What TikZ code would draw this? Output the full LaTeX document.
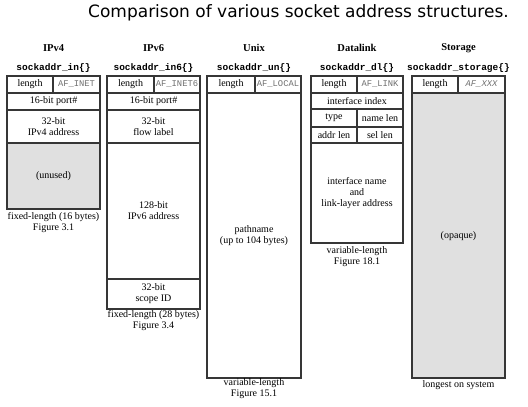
\documentclass[tikz,border=0pt]{standalone}
\usepackage{fontspec}
\setmainfont{Liberation Serif}
\newfontfamily\titlefont{DejaVu Sans}
\newfontfamily\codefont{Liberation Mono}
\usepackage{xcolor}
\usetikzlibrary{calc}
\definecolor{frame}{HTML}{363636}
\definecolor{shade}{HTML}{E0E0E0}
\definecolor{afgray}{HTML}{6E6E6E}
\tikzset{
  fld/.style={draw=frame, line width=1.1pt},
  gap/.style={fill=shade},
  ttl/.style={font=\titlefont\fontsize{17}{20}\selectfont, inner sep=0pt},
  fam/.style={font=\bfseries\fontsize{10.5}{12}\selectfont, inner sep=0pt},
  sname/.style={font=\codefont\bfseries\fontsize{9.5}{11}\selectfont, inner sep=0pt},
  txt/.style={font=\fontsize{10}{11}\selectfont, align=center, inner sep=0pt},
  afn/.style={font=\codefont\fontsize{8.8}{11}\selectfont, text=afgray, inner sep=0pt}
}
\begin{document}
\begin{tikzpicture}[x=1pt,y=-1pt]
  \useasboundingbox (0,0) rectangle (528,407);
  \node[ttl] (title) at (298.5,13) {Comparison of various socket address structures.};

  % IPv4
  \node[fam] (v4fam) at (53.5,48) {IPv4};
  \node[sname] (v4name) at (53.5,68) {sockaddr\_in\{\}};
  \fill[gap] (7,143) rectangle (100,209);
  \draw[fld] (7,76) rectangle (100,209);
  \draw[fld] (53,76) -- (53,93);
  \foreach \y in {93,110,143} \draw[fld] (7,\y) -- (100,\y);
  \node[txt] (v4len) at (30,84.5) {length};
  \node[afn] (v4af) at (76.5,84.5) {AF\_INET};
  \node[txt] (v4port) at (53.5,101.5) {16-bit port\#};
  \node[txt] (v4addr) at (53.5,126.5) {32-bit\\IPv4 address};
  \node[txt] (v4unused) at (53.5,176) {(unused)};
  \node[txt] (v4note) at (53.5,222.5) {fixed-length (16 bytes)\\Figure 3.1};

  % IPv6
  \node[fam] (v6fam) at (153.5,48) {IPv6};
  \node[sname] (v6name) at (153.5,68) {sockaddr\_in6\{\}};
  \draw[fld] (107,76) rectangle (200,309);
  \draw[fld] (154,76) -- (154,93);
  \foreach \y in {93,110,143,279} \draw[fld] (107,\y) -- (200,\y);
  \node[txt] (v6len) at (130.5,84.5) {length};
  \node[afn] (v6af) at (177,84.5) {AF\_INET6};
  \node[txt] (v6port) at (153.5,101.5) {16-bit port\#};
  \node[txt] (v6flow) at (153.5,126.5) {32-bit\\flow label};
  \node[txt] (v6addr) at (153.5,211) {128-bit\\IPv6 address};
  \node[txt] (v6scope) at (153.5,294) {32-bit\\scope ID};
  \node[txt] (v6note) at (153.5,320.5) {fixed-length (28 bytes)\\Figure 3.4};

  % Unix
  \node[fam] (unfam) at (254,48) {Unix};
  \node[sname] (unname) at (254,68) {sockaddr\_un\{\}};
  \draw[fld] (207,76) rectangle (301,378);
  \draw[fld] (255,76) -- (255,93);
  \draw[fld] (207,93) -- (301,93);
  \node[txt] (unlen) at (231,84.5) {length};
  \node[afn] (unaf) at (278,84.5) {AF\_LOCAL};
  \node[txt] (unpath) at (254,236) {pathname\\(up to 104 bytes)};
  \node[txt] (unnote) at (254,389) {variable-length\\Figure 15.1};

  % Datalink
  \node[fam] (dlfam) at (357,48) {Datalink};
  \node[sname] (dlname) at (357,68) {sockaddr\_dl\{\}};
  \draw[fld] (311,76) rectangle (403,243);
  \draw[fld] (357,76) -- (357,93);
  \draw[fld] (357,109) -- (357,143);
  \foreach \y in {93,109,127,143} \draw[fld] (311,\y) -- (403,\y);
  \node[txt] (dllen) at (334,84.5) {length};
  \node[afn] (dlaf) at (380,84.5) {AF\_LINK};
  \node[txt] (dlindex) at (357,101) {interface index};
  \node[txt] (dltype) at (334,118) {type};
  \node[txt] (dlnlen) at (380,118) {name len};
  \node[txt] (dlalen) at (334,135) {addr len};
  \node[txt] (dlslen) at (380,135) {sel len};
  \node[txt] (dladdr) at (357,193) {interface name\\and\\link-layer address};
  \node[txt] (dlnote) at (357,257) {variable-length\\Figure 18.1};

  % Storage
  \node[fam] (stfam) at (458.5,48) {Storage};
  \node[sname] (stname) at (458.5,68) {sockaddr\_storage\{\}};
  \fill[gap] (412,93) rectangle (505,378);
  \draw[fld] (412,76) rectangle (505,378);
  \draw[fld] (458,76) -- (458,93);
  \draw[fld] (412,93) -- (505,93);
  \node[txt] (stlen) at (435,84.5) {length};
  \node[afn, font=\codefont\itshape\fontsize{8.8}{11}\selectfont] (staf) at (481.5,84.5) {AF\_XXX};
  \node[txt] (stopaque) at (458.5,236) {(opaque)};
  \node[txt] (stnote) at (458.5,385) {longest on system};
\end{tikzpicture}
\end{document}
